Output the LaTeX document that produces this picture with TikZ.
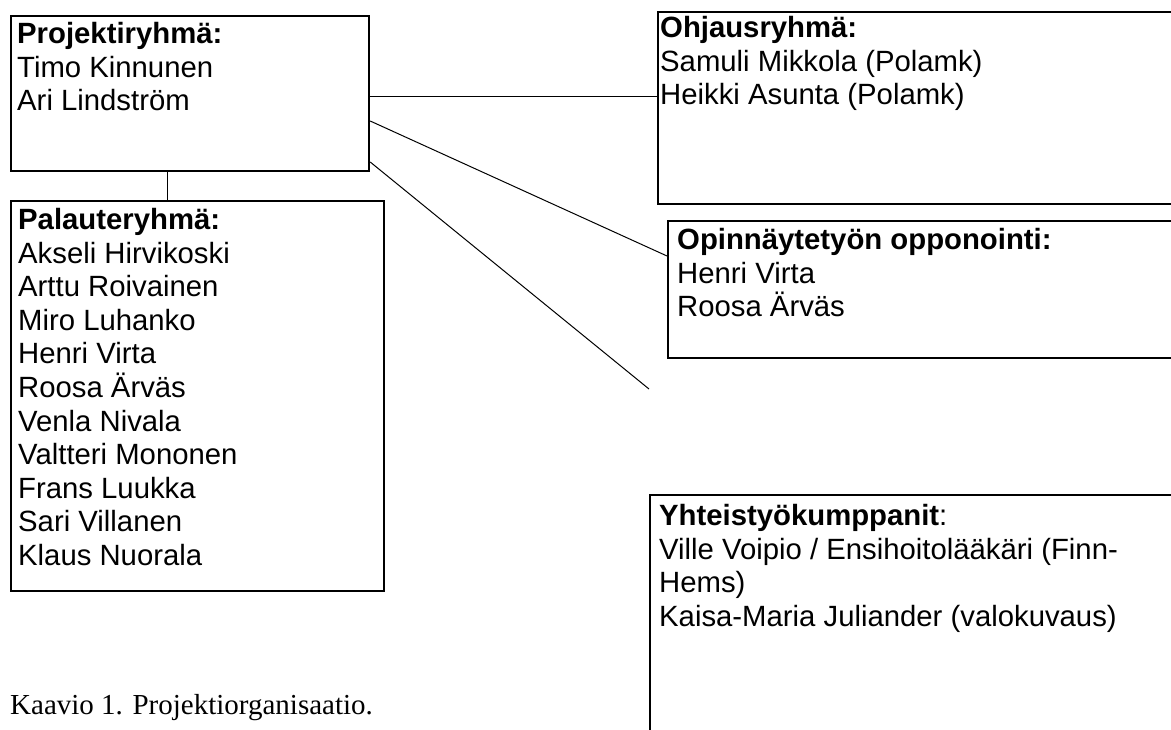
\documentclass[tikz,border=0pt]{standalone}
\usepackage{fontspec}
\setmainfont{Liberation Sans}
\newfontfamily\capfont{Liberation Serif}
\usepackage{tikz}
\usetikzlibrary{positioning, calc}

\begin{document}
\begin{tikzpicture}[x=1pt, y=-1pt,
  box/.style={draw, line width=2.2pt, inner sep=0, anchor=north west},
  txt/.style={font=\fontsize{29.3}{33.6}\selectfont, align=left, inner sep=0, anchor=north west},
  link/.style={line width=1pt}
]
  \useasboundingbox (0,0) rectangle (1171,730);
  \clip (0,0) rectangle (1171,730);

  % boxes
  \node[box, minimum width=358, minimum height=155] (projekti) at (10,15) {};
  \node[box, minimum width=373, minimum height=390] (palaute) at (10,200) {};
  \node[box, minimum width=533, minimum height=192] (ohjaus) at (657,11) {};
  \node[box, minimum width=523, minimum height=137] (opponointi) at (667,220) {};
  \node[box, minimum width=541, minimum height=260] (kumppanit) at (649,494) {};

  % texts
  \node[txt] (projektiT) at ([shift={(7,7)}]projekti.north west)
    {\textbf{Projektiryhmä:}\\Timo Kinnunen\\Ari Lindström};
  \node[txt] (palauteT) at ([shift={(8,8)}]palaute.north west)
    {\textbf{Palauteryhmä:}\\Akseli Hirvikoski\\Arttu Roivainen\\Miro Luhanko\\Henri Virta\\Roosa Ärväs\\Venla Nivala\\Valtteri Mononen\\Frans Luukka\\Sari Villanen\\Klaus Nuorala};
  \node[txt] (ohjausT) at ([shift={(3,5)}]ohjaus.north west)
    {\textbf{Ohjausryhmä:}\\Samuli Mikkola (Polamk)\\Heikki Asunta (Polamk)};
  \node[txt] (opponointiT) at ([shift={(10,8)}]opponointi.north west)
    {\textbf{Opinnäytetyön opponointi:}\\Henri Virta\\Roosa Ärväs};
  \node[txt] (kumppanitT) at ([shift={(10,10)}]kumppanit.north west)
    {\textbf{Yhteistyökumppanit}:\\Ville Voipio / Ensihoitolääkäri (Finn-\\Hems)\\Kaisa-Maria Juliander (valokuvaus)};

  \node[anchor=base west, inner sep=0, font=\capfont\fontsize{29}{33.5}\selectfont] (kaavio) at (10,714)
    {Kaavio 1. Projektiorganisaatio.};

  % connectors
  \coordinate (avoin) at (649,389);
  \draw[link] ([yshift=-82]projekti.north east) -- ([yshift=-82]projekti.north east -| ohjaus.west);
  \draw[link] ([yshift=-106]projekti.north east) -- ([yshift=-36]opponointi.north west);
  \draw[link] ([yshift=-147]projekti.north east) -- (avoin);
  \draw[link] ([xshift=-23]projekti.south) -- ([xshift=-23]projekti.south |- palaute.north);
\end{tikzpicture}
\end{document}
